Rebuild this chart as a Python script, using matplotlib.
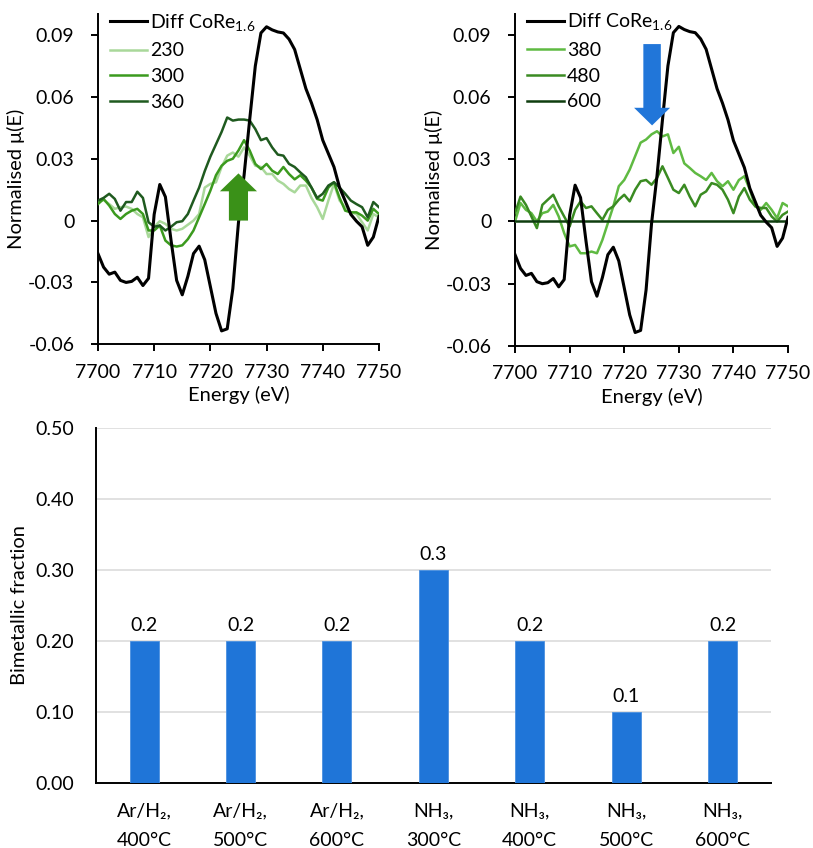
import matplotlib
matplotlib.use("Agg")
import matplotlib.pyplot as plt
from matplotlib.patches import Polygon
from matplotlib.ticker import FuncFormatter

plt.rcParams['font.family'] = ['Lato', 'DejaVu Sans']
plt.rcParams['mathtext.fontset'] = 'custom'
plt.rcParams['mathtext.rm'] = 'Lato'
plt.rcParams['font.size'] = 14

# energy grid (eV)
energy = list(range(7700, 7751))

# difference spectrum, same in both panels
diff_core = [-0.016, -0.0226, -0.026, -0.025, -0.029, -0.030, -0.0295, -0.0275, -0.0315, -0.028,
             0.003, 0.0175, 0.0115, -0.0095, -0.029, -0.036, -0.027, -0.016, -0.0124, -0.019,
             -0.032, -0.045, -0.0535, -0.0525, -0.033, -0.001, 0.022, 0.049, 0.075, 0.091,
             0.094, 0.0925, 0.0915, 0.091, 0.088, 0.083, 0.0735, 0.064, 0.057, 0.049,
             0.039, 0.0325, 0.026, 0.016, 0.0095, 0.003, -0.0003, -0.003, -0.012, -0.008,
             0.002]

# left panel
s230 = [0.009, 0.010, 0.008, 0.0057, 0.0065, 0.0068, 0.0057, 0.0032, 0.0016, -0.008,
        -0.003, -0.0003, -0.0016, -0.004, -0.0048, -0.004, -0.002, 0.0, 0.0032, 0.016,
        0.0178, 0.0186, 0.026, 0.0315, 0.033, 0.031, 0.0355, 0.0315, 0.0266, 0.026,
        0.0226, 0.0226, 0.0194, 0.0178, 0.0153, 0.0137, 0.017, 0.017, 0.011, 0.0065,
        0.0008, 0.0097, 0.0178, 0.0097, 0.0065, 0.004, 0.0032, -0.0008, -0.0048, 0.0032,
        0.0016]
s300 = [0.008, 0.0105, 0.0073, 0.0032, 0.0008, 0.0032, 0.0048, 0.0057, 0.0032, -0.0048,
        -0.0048, -0.0024, -0.0097, -0.012, -0.0126, -0.012, -0.009, -0.0048, 0.0016, 0.008,
        0.0145, 0.022, 0.0266, 0.029, 0.030, 0.034, 0.039, 0.034, 0.0275, 0.025,
        0.0275, 0.0242, 0.0226, 0.026, 0.0226, 0.020, 0.022, 0.0194, 0.016, 0.0105,
        0.0097, 0.016, 0.0186, 0.011, 0.0048, 0.004, 0.004, 0.0024, 0.0, 0.0057,
        0.0032]
s360 = [0.0097, 0.011, 0.013, 0.0105, 0.0048, 0.009, 0.009, 0.014, 0.011, -0.0008,
        -0.003, -0.0024, -0.0048, -0.003, -0.0008, -0.0003, 0.0032, 0.0097, 0.016, 0.024,
        0.031, 0.037, 0.043, 0.050, 0.0485, 0.049, 0.049, 0.0485, 0.0444, 0.039,
        0.040, 0.0355, 0.032, 0.0315, 0.0275, 0.026, 0.0234, 0.021, 0.016, 0.011,
        0.013, 0.017, 0.0186, 0.016, 0.013, 0.0097, 0.008, 0.0065, 0.0016, 0.009,
        0.0065]

# right panel
s380 = [0.0, 0.0089, 0.0056, 0.004, 0.0, 0.004, 0.0048, 0.008, 0.0024, -0.0056,
        -0.012, -0.0113, -0.0153, -0.0153, -0.0145, -0.0153, -0.0089, -0.0008, 0.0073, 0.017,
        0.020, 0.025, 0.0315, 0.038, 0.0395, 0.042, 0.0435, 0.041, 0.042, 0.033,
        0.036, 0.028, 0.0258, 0.0234, 0.0218, 0.020, 0.0234, 0.0194, 0.017, 0.0194,
        0.0153, 0.020, 0.0218, 0.0153, 0.0073, 0.0056, 0.0089, 0.0056, 0.0016, 0.0089,
        0.0073]
s480 = [0.004, 0.012, 0.008, 0.0024, -0.0032, 0.008, 0.0105, 0.0129, 0.0073, 0.0024,
        -0.0024, 0.0056, 0.0097, 0.0065, 0.0073, 0.004, 0.0008, 0.0056, 0.0073, 0.0105,
        0.0129, 0.0097, 0.0153, 0.0194, 0.020, 0.0177, 0.021, 0.0266, 0.021, 0.0153,
        0.0137, 0.0177, 0.012, 0.0073, 0.0129, 0.0145, 0.0185, 0.0177, 0.0153, 0.0105,
        0.004, 0.012, 0.0161, 0.0105, 0.0073, 0.0065, 0.0065, 0.0024, 0.0, 0.0032,
        0.0048]
s600 = [0.0] * len(energy)

# bar chart
categories = ['Ar/H₂,\n400°C', 'Ar/H₂,\n500°C', 'Ar/H₂,\n600°C', 'NH₃,\n300°C',
              'NH₃,\n400°C', 'NH₃,\n500°C', 'NH₃,\n600°C']
fractions = [0.2, 0.2, 0.2, 0.3, 0.2, 0.1, 0.2]

diff_label = r'Diff CoRe$_{\mathrm{1.6}}$'
left_series = [('230', s230, '#a9d89a'), ('300', s300, '#3b9a1e'), ('360', s360, '#1f5a1f')]
right_series = [('380', s380, '#5fba42'), ('480', s480, '#3a8b22'), ('600', s600, '#0f3d0f')]


def yfmt(v, pos):
    if abs(v) < 1e-9:
        return '0'
    return f'{v:.2f}'


def style_xas(ax):
    ax.set_xlim(7700, 7750)
    ax.set_ylim(-0.06, 0.10)
    ax.set_xticks(range(7700, 7751, 10))
    ax.set_yticks([-0.06, -0.03, 0, 0.03, 0.06, 0.09])
    ax.yaxis.set_major_formatter(FuncFormatter(yfmt))
    for side in ['top', 'right']:
        ax.spines[side].set_visible(False)
    for side in ['left', 'bottom']:
        ax.spines[side].set_linewidth(1.4)
    ax.tick_params(direction='out', length=5, width=1.4, labelsize=14)
    ax.tick_params(axis='y', pad=12)
    ax.tick_params(axis='x', pad=9)
    ax.set_xlabel('Energy (eV)', fontsize=14.5, labelpad=4)
    ax.set_ylabel('Normalised μ(E)', fontsize=14.5, labelpad=2)


def arrow(ax, x, y0, y1, head_y, half_shaft, half_head, color):
    pts = [(x - half_shaft, y0), (x - half_shaft, head_y), (x - half_head, head_y),
           (x, y1), (x + half_head, head_y), (x + half_shaft, head_y), (x + half_shaft, y0)]
    ax.add_patch(Polygon(pts, closed=True, color=color, lw=0, zorder=5))


fig = plt.figure(figsize=(8.13, 8.48), dpi=100)
ax1 = fig.add_axes([0.1205, 0.594, 0.3456, 0.389])
ax2 = fig.add_axes([0.6335, 0.592, 0.3358, 0.3915])
ax3 = fig.add_axes([0.118, 0.0767, 0.830, 0.4186])

for ax, series in [(ax1, left_series), (ax2, right_series)]:
    ax.plot(energy, diff_core, color='black', lw=2.2, label=diff_label, zorder=4,
            solid_joinstyle='round')
    for name, vals, col in series:
        ax.plot(energy, vals, color=col, lw=1.8, label=name, zorder=3, solid_joinstyle='round')
    style_xas(ax)
    ax.legend(loc='upper left', bbox_to_anchor=(0.015, 1.03), frameon=False, fontsize=14,
              handlelength=1.9, handletextpad=0.15, labelspacing=0.45, borderaxespad=0)

arrow(ax1, 7725, 0.0, 0.0229, 0.0142, 1.7, 3.3, '#3a9118')
arrow(ax2, 7725.1, 0.0855, 0.0463, 0.0548, 1.6, 3.3, '#2176d9')

# bar chart
xs = list(range(len(categories)))
bars = ax3.bar(xs, fractions, width=0.3, color='#1f75d8', edgecolor='#4a90e0', lw=0.6, zorder=3)
for b, v in zip(bars, fractions):
    ax3.text(b.get_x() + b.get_width() / 2, v + 0.01, f'{v:.1f}', ha='center', va='bottom',
             fontsize=14)
ax3.set_xlim(-0.5, len(categories) - 0.5)
ax3.set_ylim(0, 0.5)
ax3.set_yticks([0, 0.1, 0.2, 0.3, 0.4, 0.5])
ax3.yaxis.set_major_formatter(FuncFormatter(lambda v, p: f'{v:.2f}'))
ax3.set_xticks(xs)
ax3.set_xticklabels(categories, linespacing=1.9)
ax3.tick_params(length=0, labelsize=14)
ax3.tick_params(axis='x', pad=14)
ax3.tick_params(axis='y', pad=16)
ax3.grid(axis='y', color='#d9d9d9', lw=1.1, zorder=0)
for side in ['top', 'right']:
    ax3.spines[side].set_visible(False)
ax3.spines['left'].set_linewidth(1.4)
ax3.spines['bottom'].set_linewidth(1.4)
ax3.set_ylabel('Bimetallic fraction', fontsize=14.5, labelpad=5)

fig.savefig('out.png', dpi=100)
